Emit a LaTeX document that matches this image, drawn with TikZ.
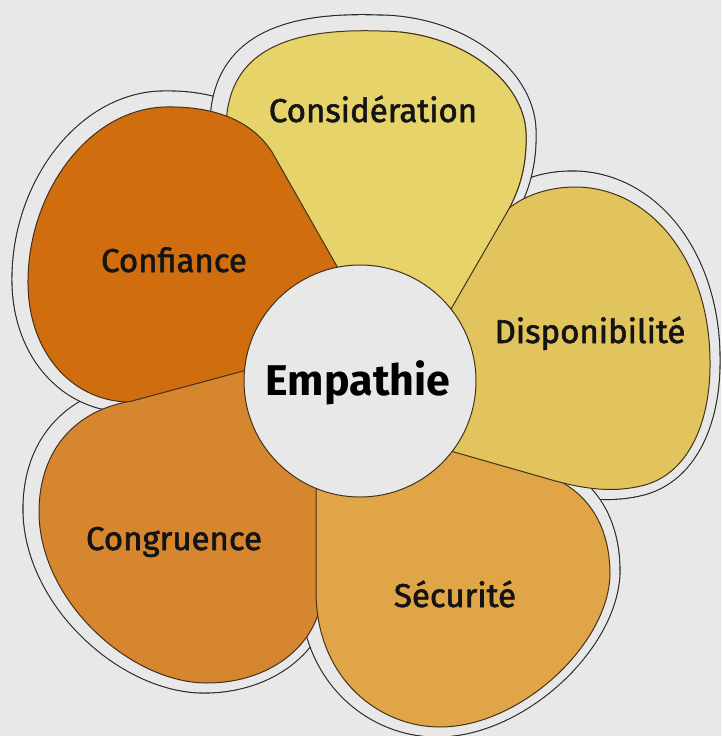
\documentclass[tikz,border=0pt]{standalone}
\usepackage{fontspec}
\setmainfont{Fira Sans}
\newfontfamily\etiqfont{Fira Sans}[FakeBold=1.8]
\definecolor{fond}{HTML}{E8E8E8}
\definecolor{bord}{HTML}{45301C}
\definecolor{considcol}{HTML}{E6D36A}
\definecolor{dispocol}{HTML}{E2C45E}
\definecolor{secucol}{HTML}{E0A546}
\definecolor{congrucol}{HTML}{D5862F}
\definecolor{conficol}{HTML}{CF6D0F}

\newcommand{\petalconsid}{(447,316) -- (506,214) .. controls (520,190) and (527,165) .. (526,133) .. controls (524,80) and (460,31) .. (380,31) .. controls (290,28) and (235,50) .. (227,113) .. controls (220,180) and (290,270) .. (360,381) -- cycle}
\newcommand{\petalconfi}{(343,277) -- (272,152) .. controls (250,118) and (210,106) .. (165,107) .. controls (90,109) and (29,190) .. (28,280) .. controls (27,350) and (70,400) .. (127,402) .. controls (180,420) and (280,420) .. (360,381) -- cycle}
\newcommand{\petalcongru}{(247,370) -- (132,401) .. controls (75,410) and (40,450) .. (39,510) .. controls (38,600) and (130,683) .. (207,683) .. controls (270,683) and (318,645) .. (322,595) .. controls (325,540) and (335,450) .. (360,381) -- cycle}
\newcommand{\petalsecu}{(316,483) -- (316,595) .. controls (318,680) and (380,727) .. (440,727) .. controls (520,727) and (608,645) .. (610,575) .. controls (610,530) and (592,502) .. (568,486) .. controls (520,455) and (420,420) .. (360,381) -- cycle}
\newcommand{\petaldispo}{(447,450) -- (545,478) .. controls (585,490) and (615,493) .. (645,485) .. controls (690,472) and (711,420) .. (710,360) .. controls (709,260) and (650,187) .. (575,187) .. controls (545,187) and (520,198) .. (507,210) .. controls (485,235) and (420,320) .. (360,381) -- cycle}

\begin{document}
\begin{tikzpicture}[x=1pt, y=-1pt,
  halo/.style={draw=black!85, line width=1.1pt, double=fond, double distance=25pt, shift={(-3,-3)}},
  petal/.style={draw=bord, line width=1pt},
  noyau/.style={circle, draw=bord, line width=1pt, fill=fond, minimum size=232pt, inner sep=0pt},
  etiquette/.style={anchor=base, text=black!92, font=\etiqfont\fontsize{33}{37}\selectfont}]

\useasboundingbox (0,0) rectangle (721,736);
\fill[fond] (0,0) rectangle (721,736);

\draw[halo] \petalcongru;
\draw[halo] \petalconfi;
\draw[halo] \petaldispo;
\draw[halo] \petalsecu;
\draw[halo] \petalconsid;

\draw[petal, fill=considcol] \petalconsid;
\draw[petal, fill=conficol] \petalconfi;
\draw[petal, fill=congrucol] \petalcongru;
\draw[petal, fill=secucol] \petalsecu;
\draw[petal, fill=dispocol] \petaldispo;
\begin{scope}
\clip (400,0) rectangle (721,736);
\draw[petal, fill=considcol] \petalconsid;
\end{scope}

\node (coeur) at (360,381) [noyau] {};

\node (consid) at (373,122) [etiquette] {Considération};
\node (confi) at (174,272) [etiquette] {Confiance};
\node (dispo) at (590,343) [etiquette] {Disponibilité};
\node (secu) at (455,607) [etiquette] {Sécurité};
\node (congru) at (174,550) [etiquette] {Congruence};
\node (empathie) at (358,395) [anchor=base, text=black, font=\fontsize{43}{47}\selectfont\bfseries] {Empathie};

\end{tikzpicture}
\end{document}
